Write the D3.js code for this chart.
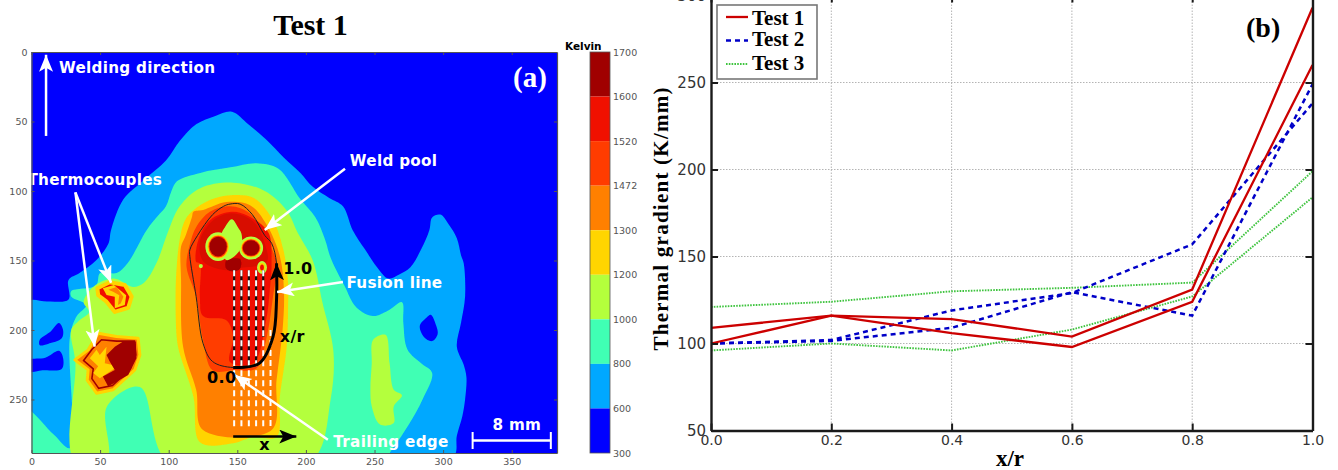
<!DOCTYPE html>
<html><head><meta charset="utf-8">
<script src="https://cdn.jsdelivr.net/npm/d3@7"></script>
<style>html,body{margin:0;padding:0;background:#fff}svg{display:block}</style>
</head><body><svg id="c" width="1338" height="470"></svg>
<script>
// ---------- panel (b) data ----------
const xPositions = [0, 0.2, 0.4, 0.6, 0.8, 1.0];
const test1A = [109, 116, 114, 104, 131, 293];
const test1B = [100, 116, 106, 98, 124, 260];
const test2A = [100, 102, 119, 129, 157, 238];
const test2B = [100, 101.5, 109, 129.5, 116, 249];
const test3A = [121, 124, 130, 132, 135, 199];
const test3B = [96, 100, 96, 108, 127, 184];
const yTicksB = [50, 100, 150, 200, 250, 300];
const xTicksB = [0, 0.2, 0.4, 0.6, 0.8, 1.0];
const legendNames = ["Test 1", "Test 2", "Test 3"];

// ---------- panel (a) colour scale ----------
const bandColors = ["#a00000", "#f01000", "#ff3c00", "#ff8000", "#ffd500", "#b4ff3c", "#40ffb4", "#00a8ff", "#0000ff"];
const bandLabels = ["1700", "1600", "1520", "1472", "1300", "1200", "1000", "800", "600", "300"];
const xTicksA = [0, 50, 100, 150, 200, 250, 300, 350];
const yTicksA = [0, 50, 100, 150, 200, 250];

// ---------- panel (a) isotherm outlines, in map units ----------
const iso600 = [[-4,180],[12,179.5],[27,178],[27,164],[35,159],[47,150],[56,138],[58,128],[67,106],[82,92],[98,78],[108,64],[120,52],[134,46],[146,43],[158,52],[171,63],[184,76],[196,87],[205,97],[217,105],[227,111],[234,128],[243,142],[252,155],[260,163],[268,160],[276,155],[284,142],[290,128],[292,119],[298,117],[304,124],[310,134],[313,146],[315,152],[316,176],[313,195],[310,212],[315,225],[317,234],[316,250],[314,262],[310,276],[307,292],[200,296],[100,296],[-4,292]];
const iso300HoleA = [[6,207],[14,201],[20,195],[23,200],[22,206],[12,210],[6,211]];
const iso300HoleB = [[-3,222],[10,220],[20,215],[23,220],[22,228],[8,229],[-3,230]];
const iso300HoleC = [[283,197],[288,191],[291,189],[295,197],[296,203],[292,208],[286,205]];
const iso800 = [[29,172],[47,168],[50,159],[62,159],[70,152],[84,128],[92,118],[98,111],[102,100],[106,93],[123,87],[145,83],[164,80],[180,84],[196,106],[207,119],[214,135],[218,148],[228,168],[237,184],[249,190],[260,186],[270,180],[271,195],[274,214],[284,224],[292,231],[285,250],[275,268],[264,284],[256,293],[120,296],[-4,293],[-4,257],[16,275],[28,285],[28,205],[33,190],[40,182],[29,176]];
const iso1000 = [[31,293],[32,224],[29,200],[35,193],[42,187],[38,180],[45,169],[60,163],[74,169],[82,166],[91,152],[100,128],[108,111],[123,98],[147,94],[170,100],[186,114],[194,130],[205,150],[212,180],[220,215],[218,250],[205,293],[150,296],[98,293],[79,241],[55,255],[55,293]];
const iso1000Island = [[249,207],[258,203.5],[261,224],[264,243],[270,247],[264,255],[264,267],[254,268],[248,255],[247,243],[248,224]];
const iso1200 = [[115.6,116],[130,106.5],[145,103],[162,105],[176,121],[183.6,142.5],[187,166],[187,183],[186,212],[181,248],[178.6,277],[161.6,277],[147,281.5],[123,281],[118,248],[108,217],[106,207],[105,175],[106,152],[108,135],[111,123]];
const iso1300 = [[118,115],[125,113.7],[142,108],[159,110],[171.5,124.5],[181,147],[184,172],[183,200],[178.6,236],[175,272],[125,272],[120,243],[110.5,212],[109,164],[109,140],[112,133],[117,118.5]];
const iso1472 = [[120,126],[130,115],[145,111],[159,116],[169,130.5],[178.7,152],[176,176],[171,207],[164,227.5],[147,229],[132,229],[125,207],[120,176],[113,154.5],[115.6,137.7]];
const iso1520 = [[130,121],[146,115],[159,118.5],[172.7,130],[175,152],[173.7,171],[171,193],[161.6,224],[144.6,223],[147,205],[142,193],[125,190],[122.7,176],[122.7,152],[120,151],[121.6,135]];
const poolShade = [[122.9,135.3],[132.6,120.9],[146,116],[161.7,122],[170,137.7],[171.5,150.9],[149.6,155.7],[142,157],[125.3,150.9]];
const iso1600Core = [[142,150],[152,149],[152,156],[147,158],[142,156]];
const poolNose = [[146,120.4],[151,127],[153,130.5],[153,140],[148,147],[142,149.7],[139,140],[138.6,130.5],[141,126]];
// eyes: centre x, centre y, radius x, radius y, band index
const eyeRings = [[136,140,9.3,10.3,5],[136,140,7.8,8.6,4],[136,140,7,7.8,2],[136,140,6.3,7.1,0],
                  [160,141,8.8,8.3,5],[160,141,7.4,6.9,4],[160,141,6.7,6.2,2],[160,141,6,5.5,0],
                  [168,155,3.6,4.6,5],[168,155,2.5,3.4,4],[168,155,1.4,2.2,1],[123.4,154,1.5,1.5,5]];
const couple1Outer = [[48,170],[57,165.6],[68,167.6],[73,176],[70.5,184],[60.7,187],[54.7,179.6],[48.6,175]];
const couple1Inner = [[52,170],[60,167.6],[69,175],[68,182],[60.7,184.4],[60.7,176],[54.7,174.8]];
const couple1Core = [[56,171],[62,169],[67,176],[65,181],[63,182],[64,175],[59.5,172.4]];
const couple2Outer = [[31.6,221.5],[41.3,214.3],[48.6,202.3],[62,204.7],[77.7,206],[79,218],[75.3,228.7],[59.5,243],[47.4,245.5],[40.6,236],[41.3,228.7]];
const couple2Mid = [[38,222],[44,214],[51,207],[62,208],[75,208],[76,218],[72,228],[59,240],[49,242],[44,235],[45,228]];
const couple2Bright = [[42.5,220.3],[47.4,214.3],[49.8,218],[54.7,212],[53.4,224],[63,226],[49.8,234.7],[45,231],[48.6,226]];
const couple2Core = [[54.7,218],[60.7,212],[66.8,208.3],[76,208.3],[76.5,220.3],[70.5,232.3],[55.9,240.7],[52,233.5],[60.7,228.7],[57,222.7]];
const fusionLine = [[144.7,109.4],[152,109.4],[161,117],[170,132],[175,137.6],[178.6,152],[178.6,178],[176,205],[166,224],[147,227],[132,222.7],[125,209.5],[120,176],[115.4,147],[115.4,142.4],[121,132],[132,117],[140,111]];
const radialPath = [[147,227],[166,224],[176,205],[178.6,178],[178.6,152]];
const sampleColumns = [147.7,153,158.4,163.7,168.9,174.2];
const sampleRows = [157,272];
const sampleBlackEnd = [225,225,225,225,205,0];

// annotation arrows in map units: from, to
const whiteArrows = [
  [[10.6,60.4],[10.6,2]],
  [[32,101],[58,166]],
  [[32,101],[46,212]],
  [[228.5,84],[170,128]],
  [[227,165.5],[179,172.6]],
  [[216,279],[148,232.4]]
];
const xArrow = [[147,276.7],[193,276.7]];
const mapNotes = [
  ["Welding direction",20,11,"w"],["Thermocouples",-3,92,"w"],["Weld pool",232,78,"w"],
  ["Fusion line",229.5,165.5,"w"],["Trailing edge",220,280,"w"],["8 mm",336,268,"w"],
  ["1.0",183.5,156,"k"],["x/r",181,205,"k"],["0.0",128,234,"k"],["x",166,282.5,"k"]
];

// ---------- drawing ----------
const svg = d3.select("#c");
const defs = svg.append("defs");
function marker(id, col){
  defs.append("marker").attr("id",id).attr("markerUnits","userSpaceOnUse")
    .attr("markerWidth",19).attr("markerHeight",15).attr("refX",17).attr("refY",7).attr("orient","auto")
    .append("path").attr("d","M17,7 L0,0 L4,7 L0,14 Z").attr("fill",col);
}
marker("hw","#fff"); marker("hk","#000");
const flt = defs.append("filter").attr("id","soft").attr("x","-2%").attr("y","-2%").attr("width","104%").attr("height","104%");
flt.append("feGaussianBlur").attr("stdDeviation",0.55);

const mapBox = {l:31.5, r:557, t:52, b:453};
const xA = d3.scaleLinear().domain([0,383]).range([mapBox.l, mapBox.r]);
const yA = d3.scaleLinear().domain([0,288.5]).range([mapBox.t, mapBox.b]);
defs.append("clipPath").attr("id","mapClip").append("rect")
  .attr("x",mapBox.l).attr("y",mapBox.t).attr("width",mapBox.r-mapBox.l).attr("height",mapBox.b-mapBox.t);

const lin = d3.line().x(d=>xA(d[0])).y(d=>yA(d[1])).curve(d3.curveLinearClosed);
const smooth = d3.line().x(d=>xA(d[0])).y(d=>yA(d[1])).curve(d3.curveCatmullRomClosed.alpha(0.5));
const open = d3.line().x(d=>xA(d[0])).y(d=>yA(d[1]));
const openS = d3.line().x(d=>xA(d[0])).y(d=>yA(d[1])).curve(d3.curveCatmullRom.alpha(0.5));

const clipG = svg.append("g").attr("clip-path","url(#mapClip)");
const heat = clipG.append("g").attr("filter","url(#soft)");
heat.append("rect").attr("x",mapBox.l-5).attr("y",mapBox.t-5).attr("width",mapBox.r-mapBox.l+10).attr("height",mapBox.b-mapBox.t+10).attr("fill",bandColors[8]);
const poly=(pts,band,gen=smooth)=>heat.append("path").attr("d",gen(pts)).attr("fill",bandColors[band]);
poly(iso600,7);
poly(iso300HoleA,8); poly(iso300HoleB,8); poly(iso300HoleC,8);
poly(iso800,6);
poly(iso1000,5);
poly(iso1000Island,5);
poly(iso1200,4); poly(iso1300,3); poly(iso1472,2); poly(iso1520,1);
heat.append("path").attr("d",smooth(poolShade)).attr("fill","#d80800");
poly(iso1600Core,0);
poly(poolNose,5);
heat.selectAll("ellipse.eye").data(eyeRings).join("ellipse").attr("class","eye")
  .attr("cx",d=>xA(d[0])).attr("cy",d=>yA(d[1]))
  .attr("rx",d=>xA(d[2])-xA(0)).attr("ry",d=>yA(d[3])-yA(0)).attr("fill",d=>bandColors[d[4]]);
heat.append("path").attr("d",lin(couple1Outer)).attr("fill",bandColors[1]).attr("stroke",bandColors[4]).attr("stroke-width",4).attr("stroke-linejoin","round");
poly(couple1Inner,4,lin); poly(couple1Core,3,lin);
heat.append("path").attr("d",lin(couple2Outer)).attr("fill",bandColors[3]).attr("stroke",bandColors[4]).attr("stroke-width",3).attr("stroke-linejoin","round");
heat.append("path").attr("d",lin(couple2Mid)).attr("fill",bandColors[3]).attr("stroke",bandColors[0]).attr("stroke-width",1.6);
poly(couple2Bright,4,lin); poly(couple2Core,0,lin);

// fusion line
clipG.append("path").attr("d",smooth(fusionLine))
  .attr("fill","none").attr("stroke","#222").attr("stroke-width",1);
// sampling columns
sampleColumns.forEach((cx,i)=>{
  if(sampleBlackEnd[i]) clipG.append("line").attr("x1",xA(cx)).attr("x2",xA(cx)).attr("y1",yA(sampleRows[0])).attr("y2",yA(sampleBlackEnd[i])).attr("stroke","#111").attr("stroke-width",2.2);
  clipG.append("line").attr("x1",xA(cx)).attr("x2",xA(cx)).attr("y1",yA(i==5?200:sampleRows[0])).attr("y2",yA(sampleRows[1])).attr("stroke","#fff").attr("stroke-width",2).attr("stroke-dasharray","6 4");
});
// radial arrow
svg.append("path").attr("d",openS(radialPath)).attr("fill","none").attr("stroke","#000").attr("stroke-width",3).attr("marker-end","url(#hk)");
svg.append("path").attr("d",open(xArrow)).attr("fill","none").attr("stroke","#000").attr("stroke-width",2.5).attr("marker-end","url(#hk)");
whiteArrows.forEach(a=>svg.append("path").attr("d",open(a)).attr("fill","none").attr("stroke","#fff").attr("stroke-width",2.5).attr("marker-end","url(#hw)"));

// scale bar
const sbY = yA(279.5);
svg.append("line").attr("x1",xA(321.5)).attr("x2",xA(378.5)).attr("y1",sbY).attr("y2",sbY).attr("stroke","#fff").attr("stroke-width",2.5);
[321.5,378.5].forEach(v=>svg.append("line").attr("x1",xA(v)).attr("x2",xA(v)).attr("y1",sbY-8.5).attr("y2",sbY+8.5).attr("stroke","#fff").attr("stroke-width",2));

// notes
svg.selectAll("text.note").data(mapNotes).join("text").attr("class","note")
  .attr("x",d=>xA(d[1])).attr("y",d=>yA(d[2])+5.5)
  .attr("font-family","'DejaVu Sans',sans-serif").attr("font-weight","bold").attr("font-size",d=>d[3]=="w"?15.2:16)
  .attr("fill",d=>d[3]=="w"?"#fff":"#000").attr("letter-spacing",0.3).text(d=>d[0]);

// map frame & axes
const gray="#555";
function styleAxis(g,fs){g.select(".domain").attr("stroke",gray).attr("stroke-width",1.2);
  g.selectAll(".tick line").attr("stroke",gray);
  g.selectAll("text").attr("fill",gray).attr("font-family","'DejaVu Sans',sans-serif").attr("font-size",fs);}
const mb=svg.append("g").attr("transform",`translate(0,${mapBox.b})`).call(d3.axisBottom(xA).tickValues(xTicksA).tickSizeInner(-3).tickSizeOuter(0).tickPadding(5).tickFormat(d3.format("d")));styleAxis(mb,9.5);
const mt=svg.append("g").attr("transform",`translate(0,${mapBox.t})`).call(d3.axisTop(xA).tickValues(xTicksA).tickSizeInner(-3).tickSizeOuter(0).tickFormat(""));styleAxis(mt,9.5);
const ml=svg.append("g").attr("transform",`translate(${mapBox.l},0)`).call(d3.axisLeft(yA).tickValues(yTicksA).tickSizeInner(-3).tickSizeOuter(0).tickPadding(4).tickFormat(d3.format("d")));styleAxis(ml,9.5);
const mr=svg.append("g").attr("transform",`translate(${mapBox.r},0)`).call(d3.axisRight(yA).tickValues(yTicksA).tickSizeInner(-3).tickSizeOuter(0).tickFormat(""));styleAxis(mr,9.5);

// titles
const serif="'Liberation Serif',serif";
svg.append("text").attr("x",310.5).attr("y",35).attr("text-anchor","middle").attr("font-family",serif).attr("font-weight","bold").attr("font-size",30).text("Test 1");
svg.append("text").attr("x",530).attr("y",87).attr("text-anchor","middle").attr("font-family",serif).attr("font-weight","bold").attr("font-size",29).attr("fill","#fff").text("(a)");

// colour bar
const cbX=590, cbW=20;
const yBar=d3.scaleLinear().domain([0,bandColors.length]).range([mapBox.t,mapBox.b]);
svg.selectAll("rect.cb").data(bandColors).join("rect").attr("class","cb")
  .attr("x",cbX).attr("width",cbW).attr("y",(d,i)=>yBar(i)).attr("height",(d,i)=>yBar(i+1)-yBar(i)).attr("fill",d=>d);
svg.append("rect").attr("x",cbX).attr("y",mapBox.t).attr("width",cbW).attr("height",mapBox.b-mapBox.t).attr("fill","none").attr("stroke",gray).attr("stroke-width",0.8);
svg.selectAll("text.cbl").data(bandLabels).join("text").attr("class","cbl")
  .attr("x",613).attr("y",(d,i)=>yBar(i)+3.5).attr("font-family","'DejaVu Sans',sans-serif").attr("font-size",9.5).attr("fill",gray).text(d=>d);
svg.append("text").attr("x",565).attr("y",50).attr("font-family","'DejaVu Sans',sans-serif").attr("font-weight","bold").attr("font-size",10.5).text("Kelvin");

// ---------- panel (b) ----------
const xB=d3.scaleLinear().domain([0,1]).range([711,1312.5]);
const yB=d3.scaleLinear().domain([50,300]).range([430.5,-4.5]);
const ink="#1a1a1a";
const gridG=svg.append("g");
xTicksB.slice(1,-1).forEach(v=>gridG.append("line").attr("x1",xB(v)).attr("x2",xB(v)).attr("y1",yB(300)).attr("y2",yB(50)).attr("stroke","#b4b4b4").attr("stroke-width",1).attr("stroke-dasharray","1.5 1.5"));
yTicksB.slice(1,-1).forEach(v=>gridG.append("line").attr("x1",xB(0)).attr("x2",xB(1)).attr("y1",yB(v)).attr("y2",yB(v)).attr("stroke","#b4b4b4").attr("stroke-width",1).attr("stroke-dasharray","1.5 1.5"));

const lineB=d3.line().x((d,i)=>xB(xPositions[i])).y(d=>yB(d));
const seriesB=[[test3A,"#3fc43f",1.9,"1.6 1.2"],[test3B,"#3fc43f",1.9,"1.6 1.2"],[test2A,"#0000c8",2.5,"5 4"],[test2B,"#0000c8",2.5,"5 4"],[test1A,"#cc0000",2.3,null],[test1B,"#cc0000",2.3,null]];
seriesB.forEach(s=>svg.append("path").attr("d",lineB(s[0])).attr("fill","none").attr("stroke",s[1]).attr("stroke-width",s[2]).attr("stroke-dasharray",s[3]));

function styleB(g,fs){g.select(".domain").attr("stroke",ink).attr("stroke-width",2.4);
  g.selectAll(".tick line").attr("stroke",ink).attr("stroke-width",2);
  g.selectAll("text").attr("fill","#333").attr("font-family","'DejaVu Sans',sans-serif").attr("font-size",fs);}
const fmt1=d3.format(".1f");
const bb=svg.append("g").attr("transform",`translate(0,${yB(50)})`).call(d3.axisBottom(xB).tickValues(xTicksB).tickSizeInner(-7).tickSizeOuter(0).tickPadding(5).tickFormat(fmt1));styleB(bb,14);
const bt=svg.append("g").attr("transform",`translate(0,${yB(300)})`).call(d3.axisTop(xB).tickValues(xTicksB).tickSizeInner(-7).tickSizeOuter(0).tickFormat(""));styleB(bt,14);
const bl=svg.append("g").attr("transform",`translate(${xB(0)},0)`).call(d3.axisLeft(yB).tickValues(yTicksB).tickSizeInner(-7).tickSizeOuter(0).tickPadding(5).tickFormat(d3.format("d")));styleB(bl,15);
const br=svg.append("g").attr("transform",`translate(${xB(1)},0)`).call(d3.axisRight(yB).tickValues(yTicksB).tickSizeInner(-7).tickSizeOuter(0).tickFormat(""));styleB(br,15);

svg.append("text").attr("transform","translate(668,219) rotate(-90)").attr("text-anchor","middle").attr("font-family",serif).attr("font-weight","bold").attr("font-size",21).attr("textLength",263).attr("lengthAdjust","spacing").text("Thermal gradient (K/mm)");
svg.append("text").attr("x",1010).attr("y",466).attr("text-anchor","middle").attr("font-family",serif).attr("font-weight","bold").attr("font-size",23).text("x/r");
svg.append("text").attr("x",1246).attr("y",37).attr("font-family",serif).attr("font-weight","bold").attr("font-size",28).text("(b)");

// legend
svg.append("rect").attr("x",717).attr("y",5).attr("width",100).attr("height",74).attr("fill","#fff").attr("stroke","#777").attr("stroke-width",1.6);
const legStyle=[["#cc0000",2.3,null,17],["#0000c8",2.5,"5 4",40.5],["#3fc43f",1.9,"1.6 1.2",64]];
legendNames.forEach((n,i)=>{
  const s=legStyle[i];
  svg.append("line").attr("x1",726).attr("x2",748).attr("y1",s[3]).attr("y2",s[3]).attr("stroke",s[0]).attr("stroke-width",s[1]).attr("stroke-dasharray",s[2]);
  svg.append("text").attr("x",752).attr("y",[24.5,46,70][i]).attr("font-family",serif).attr("font-weight","bold").attr("font-size",21).text(n);
});
</script></body></html>
